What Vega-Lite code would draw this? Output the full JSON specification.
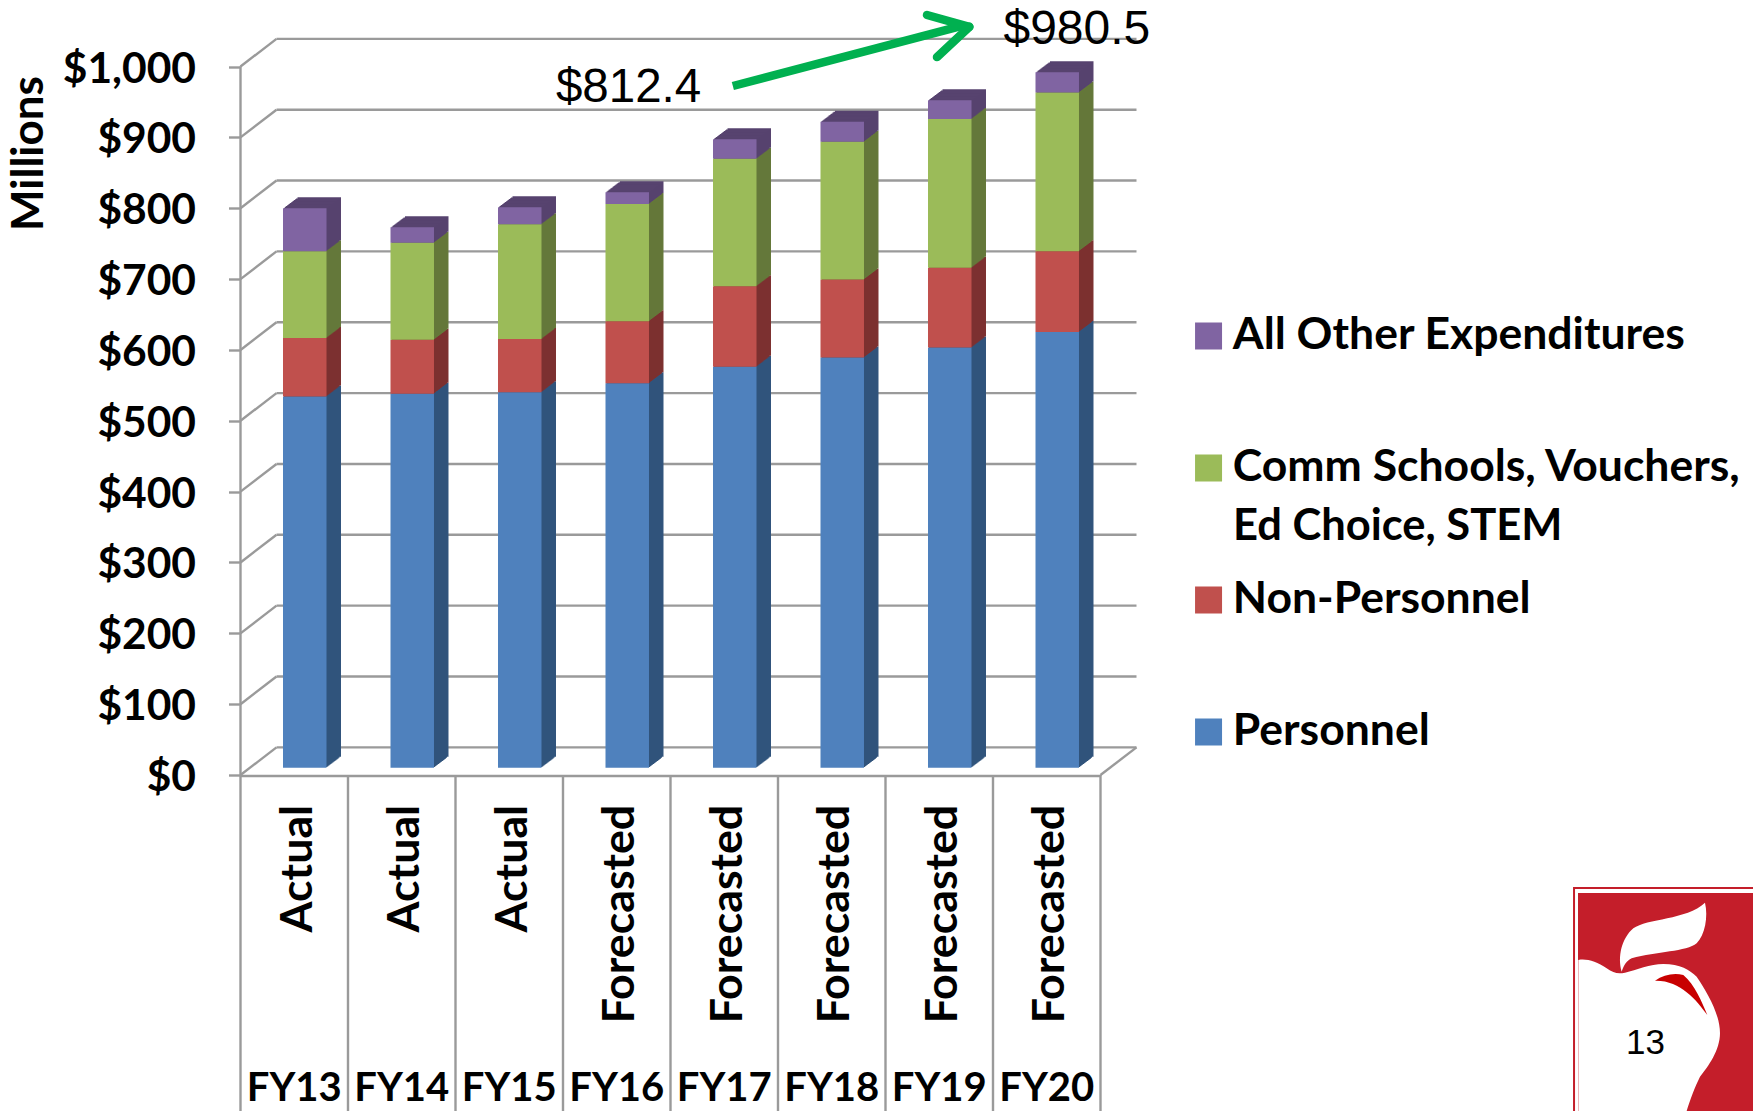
{"$schema":"https://vega.github.io/schema/vega-lite/v6.json","width":1753,"height":1111,"padding":0,"autosize":{"type":"none"},"background":"white","view":{"stroke":null},
"datasets":{
"bars":[
{"fy":13,"series":"Personnel","amount":524},{"fy":13,"series":"Non-Personnel","amount":82.5},{"fy":13,"series":"Comm Schools, Vouchers, Ed Choice, STEM","amount":122.5},{"fy":13,"series":"All Other Expenditures","amount":60.5},
{"fy":14,"series":"Personnel","amount":528},{"fy":14,"series":"Non-Personnel","amount":76},{"fy":14,"series":"Comm Schools, Vouchers, Ed Choice, STEM","amount":137},{"fy":14,"series":"All Other Expenditures","amount":21.7},
{"fy":15,"series":"Personnel","amount":530},{"fy":15,"series":"Non-Personnel","amount":75},{"fy":15,"series":"Comm Schools, Vouchers, Ed Choice, STEM","amount":162},{"fy":15,"series":"All Other Expenditures","amount":24},
{"fy":16,"series":"Personnel","amount":542.5},{"fy":16,"series":"Non-Personnel","amount":87.5},{"fy":16,"series":"Comm Schools, Vouchers, Ed Choice, STEM","amount":165.6},{"fy":16,"series":"All Other Expenditures","amount":16.8},
{"fy":17,"series":"Personnel","amount":566},{"fy":17,"series":"Non-Personnel","amount":113.5},{"fy":17,"series":"Comm Schools, Vouchers, Ed Choice, STEM","amount":180},{"fy":17,"series":"All Other Expenditures","amount":27.5},
{"fy":18,"series":"Personnel","amount":579},{"fy":18,"series":"Non-Personnel","amount":110},{"fy":18,"series":"Comm Schools, Vouchers, Ed Choice, STEM","amount":194.6},{"fy":18,"series":"All Other Expenditures","amount":28.2},
{"fy":19,"series":"Personnel","amount":593},{"fy":19,"series":"Non-Personnel","amount":112.7},{"fy":19,"series":"Comm Schools, Vouchers, Ed Choice, STEM","amount":210},{"fy":19,"series":"All Other Expenditures","amount":26.3},
{"fy":20,"series":"Personnel","amount":615},{"fy":20,"series":"Non-Personnel","amount":114},{"fy":20,"series":"Comm Schools, Vouchers, Ed Choice, STEM","amount":224},{"fy":20,"series":"All Other Expenditures","amount":28.5}],
"ticks":[{"v":0},{"v":100},{"v":200},{"v":300},{"v":400},{"v":500},{"v":600},{"v":700},{"v":800},{"v":900},{"v":1000}],
"years":[{"fy":13,"label":"FY13","status":"Actual"},{"fy":14,"label":"FY14","status":"Actual"},{"fy":15,"label":"FY15","status":"Actual"},{"fy":16,"label":"FY16","status":"Forecasted"},{"fy":17,"label":"FY17","status":"Forecasted"},{"fy":18,"label":"FY18","status":"Forecasted"},{"fy":19,"label":"FY19","status":"Forecasted"},{"fy":20,"label":"FY20","status":"Forecasted"}],
"bounds":[{"b":12.5},{"b":13.5},{"b":14.5},{"b":15.5},{"b":16.5},{"b":17.5},{"b":18.5},{"b":19.5},{"b":20.5}],
"one":[{"n":1}]},
"layer":[
{"data":{"name":"ticks"},"mark":{"type":"rule","color":"#9a9a9a","strokeWidth":2.4,"xOffset":36,"x2Offset":36,"yOffset":-27.7},"encoding":{
"x":{"datum":12.5,"type":"quantitative","scale":{"domain":[10.2628,26.5698],"nice":false,"zero":false,"padding":0},"axis":null},"x2":{"datum":20.5},
"y":{"field":"v","type":"quantitative","scale":{"domain":[-474.2,1093.9],"nice":false,"zero":false,"padding":0},"axis":{"orient":"left","offset":-240.5,"values":[0,100,200,300,400,500,600,700,800,900,1000],"domain":false,"grid":false,"ticks":true,"tickColor":"#9a9a9a","tickWidth":2.4,"tickSize":12,"labelPadding":33,"labelOffset":2.5,"labelExpr":"'$' + format(datum.value, ',')","labelFont":"Lato","labelFontWeight":"bold","labelFontSize":42.5,"labelColor":"black","labelOverlap":false,"title":"Millions","titleFont":"Lato","titleFontWeight":"bold","titleFontSize":44,"titleColor":"black","titleAngle":270,"titleX":-211.5,"titleY":153,"titleAnchor":"middle","titleAlign":"center","titleBaseline":"middle"}}}},
{"data":{"name":"ticks"},"mark":{"type":"rule","color":"#9a9a9a","strokeWidth":2.4,"x2Offset":36,"y2Offset":-27.7},"encoding":{
"x":{"datum":12.5,"type":"quantitative","axis":null},"x2":{"datum":12.5},
"y":{"field":"v","type":"quantitative"},"y2":{"field":"v"}}},
{"data":{"name":"bounds"},"mark":{"type":"rule","color":"#9a9a9a","strokeWidth":2.4,"x2Offset":36,"y2Offset":-27.7},"transform":[{"filter":"datum.b == 20.5"}],"encoding":{
"x":{"field":"b","type":"quantitative","axis":null},"x2":{"field":"b"},
"y":{"datum":0,"type":"quantitative"},"y2":{"datum":0}}},
{"data":{"name":"bounds"},"mark":{"type":"rule","color":"#9a9a9a","strokeWidth":2.4},"encoding":{
"x":{"field":"b","type":"quantitative","axis":null},
"y":{"datum":0,"type":"quantitative"},"y2":{"datum":-474.2}}},
{"data":{"name":"one"},"mark":{"type":"rule","color":"#9a9a9a","strokeWidth":2.4},"encoding":{
"x":{"datum":12.5,"type":"quantitative","axis":null},
"y":{"datum":0,"type":"quantitative"},"y2":{"datum":1000}}},
{"data":{"name":"one"},"mark":{"type":"rule","color":"#9a9a9a","strokeWidth":2.4,"yOffset":1},"encoding":{
"x":{"datum":12.5,"type":"quantitative","axis":null},"x2":{"datum":20.5},
"y":{"datum":0,"type":"quantitative"}}},
{"data":{"name":"bars"},
"encoding":{"x":{"field":"fy","type":"quantitative","axis":null},
"y":{"field":"amount","type":"quantitative","stack":"zero"},
"order":{"field":"series","sort":"descending"},
"color":{"field":"series","type":"nominal","legend":null,"scale":{"domain":["All Other Expenditures","Comm Schools, Vouchers, Ed Choice, STEM","Non-Personnel","Personnel"],"range":["#57436f","#65783A","#7D3130","#31547C"]}}},
"layer":[
{"mark":{"type":"bar","orient":"vertical","size":43.5,"xOffset":25,"yOffset":-18.3,"y2Offset":-18.3}},
{"mark":{"type":"bar","orient":"vertical","size":43.5,"xOffset":23.5,"yOffset":-17.2,"y2Offset":-17.2}},
{"mark":{"type":"bar","orient":"vertical","size":43.5,"xOffset":22.5,"yOffset":-16.4,"y2Offset":-16.4}},
{"mark":{"type":"bar","orient":"vertical","size":43.5,"xOffset":21.5,"yOffset":-15.6,"y2Offset":-15.6}},
{"mark":{"type":"bar","orient":"vertical","size":43.5,"xOffset":20.5,"yOffset":-14.9,"y2Offset":-14.9}},
{"mark":{"type":"bar","orient":"vertical","size":43.5,"xOffset":19.5,"yOffset":-14.1,"y2Offset":-14.1}},
{"mark":{"type":"bar","orient":"vertical","size":43.5,"xOffset":18.5,"yOffset":-13.4,"y2Offset":-13.4}},
{"mark":{"type":"bar","orient":"vertical","size":43.5,"xOffset":17.5,"yOffset":-12.6,"y2Offset":-12.6}},
{"mark":{"type":"bar","orient":"vertical","size":43.5,"xOffset":16.5,"yOffset":-11.8,"y2Offset":-11.8}},
{"mark":{"type":"bar","orient":"vertical","size":43.5,"xOffset":15.5,"yOffset":-11.1,"y2Offset":-11.1}},
{"mark":{"type":"bar","orient":"vertical","size":43.5,"xOffset":14.5,"yOffset":-10.3,"y2Offset":-10.3}},
{"mark":{"type":"bar","orient":"vertical","size":43.5,"xOffset":13.5,"yOffset":-9.6,"y2Offset":-9.6}},
{"mark":{"type":"bar","orient":"vertical","size":43.5,"xOffset":12.5,"yOffset":-8.8,"y2Offset":-8.8}},
{"mark":{"type":"bar","orient":"vertical","size":43.5,"xOffset":11.5,"yOffset":-8,"y2Offset":-8}}
]},
{"data":{"name":"bars"},"mark":{"type":"bar","orient":"vertical","size":43.5,"xOffset":10.5,"yOffset":-7.3,"y2Offset":-7.3},"encoding":{
"x":{"field":"fy","type":"quantitative","axis":null},
"y":{"field":"amount","type":"quantitative","stack":"zero"},
"order":{"field":"series","sort":"descending"},
"color":{"field":"series","type":"nominal","scale":{"domain":["All Other Expenditures","Comm Schools, Vouchers, Ed Choice, STEM","Non-Personnel","Personnel"],"range":["#8064A2","#9BBB59","#C0504D","#4F81BD"]},
"legend":{"orient":"none","legendX":1186.3,"legendY":270,"title":null,"symbolType":"square","symbolSize":729,"symbolStrokeWidth":0,"labelFont":"Lato","labelFontWeight":"bold","labelFontSize":44.5,"labelColor":"black","labelOffset":2,"labelLimit":600,"rowPadding":0,"clipHeight":132,"labelExpr":"datum.label == 'Comm Schools, Vouchers, Ed Choice, STEM' ? 'Comm Schools, Vouchers,' : datum.label"}}}},
{"data":{"name":"one"},"mark":{"type":"text","font":"Lato","fontWeight":"bold","fontSize":43.5,"color":"black","align":"left","baseline":"middle"},"encoding":{
"x":{"datum":21.732,"type":"quantitative","axis":null},"y":{"datum":350,"type":"quantitative"},"text":{"value":"Ed Choice, STEM"}}},
{"data":{"name":"years"},"mark":{"type":"text","font":"Lato","fontWeight":"bold","fontSize":44.7,"color":"black","angle":270,"align":"right","baseline":"middle","xOffset":4.5},"encoding":{
"x":{"field":"fy","type":"quantitative","axis":null},"y":{"datum":-42,"type":"quantitative"},"text":{"field":"status"}}},
{"data":{"name":"years"},"mark":{"type":"text","font":"Lato","fontWeight":"bold","fontSize":40,"color":"black","align":"center","baseline":"middle"},"encoding":{
"x":{"field":"fy","type":"quantitative","axis":null},"y":{"datum":-443,"type":"quantitative"},"text":{"field":"label"}}},
{"data":{"name":"one"},"mark":{"type":"text","font":"Liberation Sans","fontSize":47.5,"color":"black","align":"center","baseline":"middle"},"encoding":{
"x":{"datum":16.11,"type":"quantitative","axis":null},"y":{"datum":969.5,"type":"quantitative"},"text":{"value":"$812.4"}}},
{"data":{"name":"one"},"mark":{"type":"text","font":"Liberation Sans","fontSize":48,"color":"black","align":"center","baseline":"middle"},"encoding":{
"x":{"datum":20.28,"type":"quantitative","axis":null},"y":{"datum":1051,"type":"quantitative"},"text":{"value":"$980.5"}}},
{"data":{"name":"one"},"mark":{"type":"rule","color":"#00B050","strokeWidth":8.5},"encoding":{
"x":{"datum":17.08,"type":"quantitative","axis":null},"x2":{"datum":19.2},"y":{"datum":972.5,"type":"quantitative"},"y2":{"datum":1057}}},
{"data":{"name":"one"},"mark":{"type":"rule","color":"#00B050","strokeWidth":8.5,"strokeCap":"round"},"encoding":{
"x":{"datum":18.886,"type":"quantitative","axis":null},"x2":{"datum":19.28},"y":{"datum":1072.7,"type":"quantitative"},"y2":{"datum":1056}}},
{"data":{"name":"one"},"mark":{"type":"rule","color":"#00B050","strokeWidth":8.5,"strokeCap":"round"},"encoding":{
"x":{"datum":18.979,"type":"quantitative","axis":null},"x2":{"datum":19.28},"y":{"datum":1013.4,"type":"quantitative"},"y2":{"datum":1056}}},
{"data":{"name":"one"},"mark":{"type":"rect","fill":"#C41E2A"},"encoding":{
"x":{"datum":24.942,"type":"quantitative","axis":null},"x2":{"datum":26.5698},"y":{"datum":-166.5,"type":"quantitative"},"y2":{"datum":-474.2}}},
{"data":{"name":"one"},"mark":{"type":"rect","fill":null,"stroke":"#C41E2A","strokeWidth":2},"encoding":{
"x":{"datum":24.905,"type":"quantitative","axis":null},"x2":{"datum":27},"y":{"datum":-159.5,"type":"quantitative"},"y2":{"datum":-480}}},
{"data":{"name":"one"},"mark":{"type":"point","filled":true,"opacity":1,"fill":"white","stroke":null,"size":0.4444,"shape":"M235 300 C260 295 290 305 320 325 C340 340 355 342 375 338 C410 330 450 312 490 312 C540 312 570 330 590 350 C620 395 660 460 660 520 C660 570 625 620 600 650 C585 680 570 720 560 753 L235 753 Z"},"encoding":{
"x":{"datum":24.2163,"type":"quantitative","axis":null},"y":{"datum":-119.97,"type":"quantitative"}}},
{"data":{"name":"one"},"mark":{"type":"point","filled":true,"opacity":1,"fill":"white","stroke":null,"size":0.4444,"shape":"M365 335 C352 290 365 235 400 205 C440 175 560 180 615 128 C625 170 615 225 590 250 C560 275 470 275 395 295 C380 302 372 315 365 335 Z"},"encoding":{
"x":{"datum":24.2163,"type":"quantitative","axis":null},"y":{"datum":-119.97,"type":"quantitative"}}},
{"data":{"name":"one"},"mark":{"type":"point","filled":true,"opacity":1,"fill":"#C80000","stroke":null,"size":0.4444,"shape":"M465 362 C490 345 520 338 550 345 C585 375 605 425 622 465 C590 420 540 360 465 362 Z"},"encoding":{
"x":{"datum":24.2163,"type":"quantitative","axis":null},"y":{"datum":-119.97,"type":"quantitative"}}},
{"data":{"name":"one"},"mark":{"type":"text","font":"Liberation Sans","fontSize":35,"color":"black","align":"center","baseline":"middle"},"encoding":{
"x":{"datum":25.57,"type":"quantitative","axis":null},"y":{"datum":-378,"type":"quantitative"},"text":{"value":"13"}}}
],
"resolve":{"scale":{"color":"independent"}}}
